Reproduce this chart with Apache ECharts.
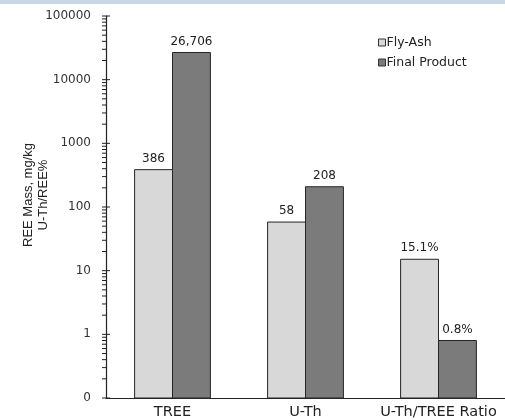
<!DOCTYPE html>
<html>
<head>
<meta charset="utf-8">
<script src="https://cdn.jsdelivr.net/npm/echarts@6/dist/echarts.min.js"></script>
<style>
  html, body { margin: 0; padding: 0; background: #fff; }
  #chart { width: 505px; height: 420px; }
</style>
</head>
<body>
<div id="chart"></div>
<script>
// REE content of fly-ash vs. final product (log scale)
const categories = ['TREE', 'U-Th', 'U-Th/TREE Ratio'];
const flyAsh = [386, 58, 15.1];
const finalProduct = [26706, 208, 0.8];
const seriesNames = ['Fly-Ash', 'Final Product'];
const yMin = 0.1;
const yMax = 100000;

// tick positions for the log axis: decades and the 2..9 steps between them
const majorTicks = [];
const minorTicks = [];
for (let d = yMin; d <= yMax * 1.0001; d *= 10) {
  majorTicks.push(d);
  if (d < yMax * 0.999) {
    for (let k = 2; k <= 9; k++) minorTicks.push(d * k);
  }
}

const wideFont = '"DejaVu Sans", Verdana, sans-serif';
const plainFont = '"Liberation Sans", Arial, sans-serif';
const colors = {
  fly: { fill: '#d8d8d8', stroke: '#262626' },
  fin: { fill: '#7b7b7b', stroke: '#262626' }
};

function valueText(catIndex, v) {
  if (catIndex === 2) return v.toFixed(1) + '%';
  return v.toLocaleString('en-US');
}

// bars grow up from the bottom of the log axis; the pair sits side by side in each band
function barRenderer(side, style) {
  return function (params, api) {
    const cat = api.value(0);
    const val = api.value(1);
    const top = api.coord([cat, val]);
    const base = api.coord([cat, yMin])[1];
    const band = api.size([1, 0])[0];
    const w = band * 0.285;
    const x = side === 0 ? top[0] - w : top[0];
    return {
      type: 'group',
      children: [
        {
          type: 'rect',
          shape: { x: x, y: top[1], width: w, height: base - top[1] },
          style: { fill: style.fill, stroke: style.stroke, lineWidth: 1 }
        },
        {
          type: 'text',
          style: {
            text: valueText(cat, val),
            x: x + w / 2,
            y: top[1] - 5,
            align: 'center',
            verticalAlign: 'bottom',
            fontFamily: wideFont,
            fontSize: 12,
            fill: '#222'
          }
        }
      ]
    };
  };
}

const chart = echarts.init(document.getElementById('chart'));

chart.setOption({
  animation: false,
  textStyle: { fontFamily: wideFont },
  graphic: [{
    type: 'rect',
    shape: { x: 0, y: 0, width: 505, height: 4 },
    style: { fill: '#c9d7e4' },
    silent: true
  }],
  legend: {
    orient: 'vertical',
    left: 378,
    top: 36,
    padding: 0,
    itemWidth: 7,
    itemHeight: 7,
    itemGap: 7,
    icon: 'rect',
    textStyle: { fontSize: 12.5, color: '#222', fontFamily: wideFont, padding: [0, 0, 0, -4] },
    data: [
      { name: seriesNames[0], itemStyle: { color: colors.fly.fill, borderColor: '#333', borderWidth: 1 } },
      { name: seriesNames[1], itemStyle: { color: colors.fin.fill, borderColor: '#333', borderWidth: 1 } }
    ]
  },
  grid: { left: 106, top: 16, bottom: 22, right: -6 },
  xAxis: {
    type: 'category',
    data: categories,
    axisLine: { lineStyle: { color: '#222', width: 1.2 } },
    axisTick: { show: false },
    axisLabel: { color: '#222', fontSize: 14.5, fontFamily: wideFont, margin: 7, interval: 0, hideOverlap: false }
  },
  yAxis: {
    type: 'log',
    logBase: 10,
    min: yMin,
    max: yMax,
    name: 'REE Mass, mg/kg\nU-Th/REE%',
    nameLocation: 'middle',
    nameRotate: 90,
    nameGap: 55,
    nameMoveOverlap: false,
    nameTextStyle: { fontSize: 13, color: '#222', fontFamily: plainFont, lineHeight: 15, padding: [0, 0, 0, 24] },
    axisLine: { show: true, lineStyle: { color: '#222', width: 1.2 } },
    axisTick: { show: false },
    splitLine: { show: false },
    axisLabel: {
      color: '#333',
      fontSize: 12,
      fontFamily: wideFont,
      margin: 15,
      formatter: v => (v < 1 ? '0' : String(Math.round(v)))
    }
  },
  series: [
    {
      name: seriesNames[0],
      type: 'custom',
      itemStyle: { color: colors.fly.fill },
      data: flyAsh.map((v, i) => [i, v]),
      encode: { x: 0, y: 1 },
      renderItem: barRenderer(0, colors.fly)
    },
    {
      name: seriesNames[1],
      type: 'custom',
      itemStyle: { color: colors.fin.fill },
      data: finalProduct.map((v, i) => [i, v]),
      encode: { x: 0, y: 1 },
      renderItem: barRenderer(1, colors.fin)
    },
    {
      // axis tick marks placed through the y scale
      type: 'custom',
      silent: true,
      z: 5,
      data: majorTicks.map(v => [0, v, 1]).concat(minorTicks.map(v => [0, v, 0])),
      encode: { x: 0, y: 1 },
      renderItem: function (params, api) {
        const y = api.coord([0, api.value(1)])[1];
        const x0 = params.coordSys.x;
        const major = api.value(2) === 1;
        return {
          type: 'line',
          shape: { x1: x0 - 4, y1: y, x2: major ? x0 + 4 : x0, y2: y },
          style: { stroke: '#222', lineWidth: 1 }
        };
      }
    }
  ]
});
</script>
</body>
</html>
